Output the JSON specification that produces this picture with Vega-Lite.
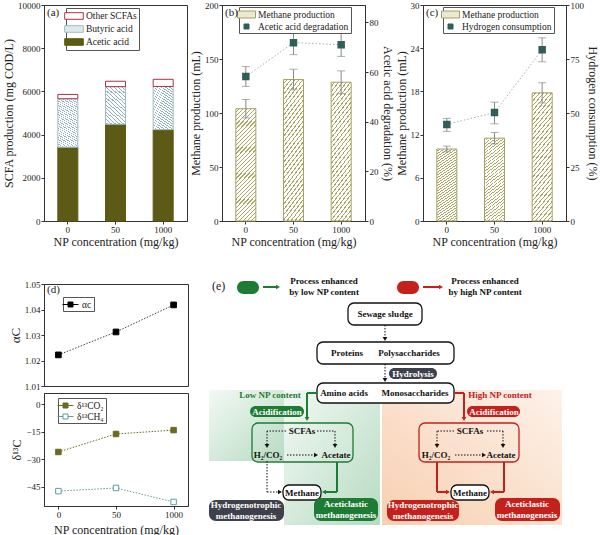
{
"$schema":"https://vega.github.io/schema/vega-lite/v6.json",
"background":"white",
"padding":{"left":2,"top":0,"right":2,"bottom":0},
"config":{
 "font":"Liberation Serif",
 "view":{"stroke":"#333","strokeWidth":1},
 "axis":{"labelFont":"Liberation Serif","titleFont":"Liberation Serif","labelFontSize":9,"titleFontSize":12,"titleFontWeight":"normal","grid":false,"domainColor":"#333","tickColor":"#333","labelColor":"#222","titleColor":"#222","tickSize":3,"labelPadding":1,"titlePadding":2},
 "legend":{"labelFont":"Liberation Serif","labelFontSize":9.5,"labelColor":"#222","strokeColor":"#555","padding":2,"fillColor":"#ffffff","symbolStrokeWidth":1,"rowPadding":1,"labelOffset":6},
 "title":{"font":"Liberation Serif","fontSize":11,"fontWeight":"normal","color":"#222"}
},
"datasets":{
 "bg":[
  {"x":212,"x2":287,"y":392,"y2":463,"zone":"low"},
  {"x":287,"x2":383,"y":392,"y2":527,"zone":"low"},
  {"x":385,"x2":565,"y":392,"y2":527,"zone":"high"}
 ],
 "boxes":[
  {"x":351,"x2":425,"y":305,"y2":327,"c":"k"},
  {"x":320,"x2":457,"y":344,"y2":366,"c":"k"},
  {"x":320,"x2":457,"y":385,"y2":405,"c":"k"},
  {"x":255,"x2":356,"y":425,"y2":464,"c":"g"},
  {"x":422,"x2":522,"y":425,"y2":464,"c":"r"},
  {"x":286,"x2":324,"y":487,"y2":502,"c":"k"},
  {"x":454,"x2":492,"y":487,"y2":502,"c":"k"}
 ],
 "pills":[
  {"x":240,"x2":262,"y":283,"y2":296,"c":"g"},
  {"x":400,"x2":422,"y":283,"y2":296,"c":"r"},
  {"x":392,"x2":440,"y":370,"y2":381,"c":"d"},
  {"x":253,"x2":307,"y":408,"y2":419,"c":"g"},
  {"x":470,"x2":523,"y":408,"y2":419,"c":"r"},
  {"x":212,"x2":287,"y":502,"y2":523,"c":"d"},
  {"x":317,"x2":381,"y":500,"y2":523,"c":"g"},
  {"x":390,"x2":462,"y":502,"y2":523,"c":"r"},
  {"x":498,"x2":563,"y":500,"y2":523,"c":"r"}
 ],
 "dots":[
  {"x":388,"y":327,"x2":388,"y2":340},
  {"x":388,"y":366,"x2":388,"y2":381},
  {"x":289,"y":433,"x2":270,"y2":433},{"x":270,"y":433,"x2":270,"y2":447},
  {"x":320,"y":433,"x2":338,"y2":433},{"x":338,"y":433,"x2":338,"y2":447},
  {"x":290,"y":457,"x2":318,"y2":457},
  {"x":270,"y":463,"x2":270,"y2":494},{"x":270,"y":494,"x2":282,"y2":494},
  {"x":457,"y":433,"x2":440,"y2":433},{"x":440,"y":433,"x2":440,"y2":447},
  {"x":490,"y":433,"x2":506,"y2":433},{"x":506,"y":433,"x2":506,"y2":447},
  {"x":458,"y":457,"x2":486,"y2":457}
 ],
 "solids":[
  {"x":266,"y":289,"x2":280,"y2":289,"c":"g"},
  {"x":426,"y":289,"x2":443,"y2":289,"c":"r"},
  {"x":320,"y":395,"x2":310,"y2":395,"c":"g"},{"x":310,"y":395,"x2":310,"y2":420,"c":"g"},
  {"x":340,"y":464,"x2":340,"y2":494,"c":"g"},{"x":340,"y":494,"x2":328,"y2":494,"c":"g"},
  {"x":457,"y":395,"x2":467,"y2":395,"c":"r"},{"x":467,"y":395,"x2":467,"y2":420,"c":"r"},
  {"x":440,"y":464,"x2":440,"y2":494,"c":"r"},{"x":440,"y":494,"x2":450,"y2":494,"c":"r"},
  {"x":507,"y":464,"x2":507,"y2":494,"c":"r"},{"x":507,"y":494,"x2":496,"y2":494,"c":"r"}
 ],
 "heads":[
  {"x":388,"y":341,"dir":"down","c":"k"},
  {"x":388,"y":382,"dir":"down","c":"k"},
  {"x":270,"y":448,"dir":"down","c":"k"},{"x":338,"y":448,"dir":"down","c":"k"},
  {"x":319,"y":457,"dir":"right","c":"k"},
  {"x":283,"y":494,"dir":"right","c":"k"},
  {"x":440,"y":448,"dir":"down","c":"k"},{"x":506,"y":448,"dir":"down","c":"k"},
  {"x":487,"y":457,"dir":"right","c":"k"},
  {"x":281,"y":289,"dir":"right","c":"g"},{"x":444,"y":289,"dir":"right","c":"r"},
  {"x":310,"y":421,"dir":"down","c":"g"},{"x":327,"y":494,"dir":"left","c":"g"},
  {"x":467,"y":421,"dir":"down","c":"r"},{"x":451,"y":494,"dir":"right","c":"r"},{"x":495,"y":494,"dir":"left","c":"r"}
 ],
 "texts":[
  {"t":"Process enhanced","x":327,"y":283,"c":"k"},{"t":"by low NP content","x":327,"y":294,"c":"k"},
  {"t":"Process enhanced","x":488,"y":283,"c":"k"},{"t":"by high NP content","x":488,"y":294,"c":"k"},
  {"t":"Sewage sludge","x":388,"y":316,"c":"k"},
  {"t":"Proteins","x":350,"y":355,"c":"k"},{"t":"Polysaccharides","x":412,"y":355,"c":"k"},
  {"t":"Hydrolysis","x":416,"y":375.5,"c":"w"},
  {"t":"Amino acids","x":347,"y":395,"c":"k"},{"t":"Monosaccharides","x":418,"y":395,"c":"k"},
  {"t":"Low NP content","x":273,"y":397,"c":"g"},{"t":"High NP content","x":503,"y":397,"c":"r"},
  {"t":"Acidification","x":280,"y":413.5,"c":"w"},{"t":"Acidification","x":497,"y":413.5,"c":"w"},
  {"t":"SCFAs","x":305,"y":433,"c":"k"},{"t":"SCFAs","x":473,"y":433,"c":"k"},
  {"t":"H₂/CO₂","x":271,"y":457,"c":"k"},{"t":"H₂/CO₂","x":439,"y":457,"c":"k"},
  {"t":"Acetate","x":339,"y":457,"c":"k"},{"t":"Acetate","x":504,"y":457,"c":"k"},
  {"t":"Methane","x":305,"y":494.5,"c":"k"},{"t":"Methane","x":473,"y":494.5,"c":"k"},
  {"t":"Hydrogenotrophic","x":249,"y":507,"c":"w"},{"t":"methanogenesis","x":249,"y":518,"c":"w"},
  {"t":"Aceticlastic","x":349,"y":506,"c":"w"},{"t":"methanogenesis","x":349,"y":517,"c":"w"},
  {"t":"Hydrogenotrophic","x":426,"y":507,"c":"w"},{"t":"methanogenesis","x":426,"y":518,"c":"w"},
  {"t":"Aceticlastic","x":530,"y":506,"c":"w"},{"t":"methanogenesis","x":530,"y":517,"c":"w"}
 ]
},
"resolve":{"scale":{"fill":"independent","stroke":"independent","color":"independent","shape":"independent"},"legend":{"fill":"independent","stroke":"independent","color":"independent","shape":"independent"}},
"hconcat":[
 {"resolve":{"scale":{"fill":"independent","stroke":"independent","color":"independent","shape":"independent"},"legend":{"fill":"independent","stroke":"independent","color":"independent","shape":"independent"}},
  "vconcat":[
  {
   "width":143,"height":216,
   "title":{"text":"(a)","frame":"group","anchor":"start","offset":-17,"dx":3},
   "data":{"values":[
    {"np":"0","comp":"Acetic acid","v":3420},
    {"np":"0","comp":"Butyric acid","v":2240},
    {"np":"0","comp":"Other SCFAs","v":200},
    {"np":"50","comp":"Acetic acid","v":4480},
    {"np":"50","comp":"Butyric acid","v":1740},
    {"np":"50","comp":"Other SCFAs","v":250},
    {"np":"1000","comp":"Acetic acid","v":4230},
    {"np":"1000","comp":"Butyric acid","v":2000},
    {"np":"1000","comp":"Other SCFAs","v":330}
   ]},
   "mark":{"type":"bar","strokeWidth":1},
   "encoding":{
    "x":{"field":"np","type":"nominal","sort":["0","50","1000"],"scale":{"paddingInner":0.58,"paddingOuter":0.29},"axis":{"labelAngle":0,"title":"NP concentration (mg/kg)"}},
    "y":{"field":"v","type":"quantitative","stack":"zero","scale":{"domain":[0,10000],"nice":false},"axis":{"values":[0,2000,4000,6000,8000,10000],"format":"d","title":"SCFA production (mg COD/L)"}},
    "order":{"field":"comp","sort":"ascending"},
    "fill":{"condition":{"test":"datum.comp === 'Butyric acid'","value":{"gradient":"linear","x1":0,"y1":0,"x2":0.2122,"y2":1.146,"stops":[
{"offset":0,"color":"#fff"},{"offset":0.021875,"color":"#fff"},{"offset":0.021875,"color":"#8fb0ba"},{"offset":0.03125,"color":"#8fb0ba"},
{"offset":0.03125,"color":"#fff"},{"offset":0.053125,"color":"#fff"},{"offset":0.053125,"color":"#8fb0ba"},{"offset":0.0625,"color":"#8fb0ba"},
{"offset":0.0625,"color":"#fff"},{"offset":0.084375,"color":"#fff"},{"offset":0.084375,"color":"#8fb0ba"},{"offset":0.09375,"color":"#8fb0ba"},
{"offset":0.09375,"color":"#fff"},{"offset":0.115625,"color":"#fff"},{"offset":0.115625,"color":"#8fb0ba"},{"offset":0.125,"color":"#8fb0ba"},
{"offset":0.125,"color":"#fff"},{"offset":0.146875,"color":"#fff"},{"offset":0.146875,"color":"#8fb0ba"},{"offset":0.15625,"color":"#8fb0ba"},
{"offset":0.15625,"color":"#fff"},{"offset":0.178125,"color":"#fff"},{"offset":0.178125,"color":"#8fb0ba"},{"offset":0.1875,"color":"#8fb0ba"},
{"offset":0.1875,"color":"#fff"},{"offset":0.209375,"color":"#fff"},{"offset":0.209375,"color":"#8fb0ba"},{"offset":0.21875,"color":"#8fb0ba"},
{"offset":0.21875,"color":"#fff"},{"offset":0.240625,"color":"#fff"},{"offset":0.240625,"color":"#8fb0ba"},{"offset":0.25,"color":"#8fb0ba"},
{"offset":0.25,"color":"#fff"},{"offset":0.271875,"color":"#fff"},{"offset":0.271875,"color":"#8fb0ba"},{"offset":0.28125,"color":"#8fb0ba"},
{"offset":0.28125,"color":"#fff"},{"offset":0.303125,"color":"#fff"},{"offset":0.303125,"color":"#8fb0ba"},{"offset":0.3125,"color":"#8fb0ba"},
{"offset":0.3125,"color":"#fff"},{"offset":0.334375,"color":"#fff"},{"offset":0.334375,"color":"#8fb0ba"},{"offset":0.34375,"color":"#8fb0ba"},
{"offset":0.34375,"color":"#fff"},{"offset":0.365625,"color":"#fff"},{"offset":0.365625,"color":"#8fb0ba"},{"offset":0.375,"color":"#8fb0ba"},
{"offset":0.375,"color":"#fff"},{"offset":0.396875,"color":"#fff"},{"offset":0.396875,"color":"#8fb0ba"},{"offset":0.40625,"color":"#8fb0ba"},
{"offset":0.40625,"color":"#fff"},{"offset":0.428125,"color":"#fff"},{"offset":0.428125,"color":"#8fb0ba"},{"offset":0.4375,"color":"#8fb0ba"},
{"offset":0.4375,"color":"#fff"},{"offset":0.459375,"color":"#fff"},{"offset":0.459375,"color":"#8fb0ba"},{"offset":0.46875,"color":"#8fb0ba"},
{"offset":0.46875,"color":"#fff"},{"offset":0.490625,"color":"#fff"},{"offset":0.490625,"color":"#8fb0ba"},{"offset":0.5,"color":"#8fb0ba"},
{"offset":0.5,"color":"#fff"},{"offset":0.521875,"color":"#fff"},{"offset":0.521875,"color":"#8fb0ba"},{"offset":0.53125,"color":"#8fb0ba"},
{"offset":0.53125,"color":"#fff"},{"offset":0.553125,"color":"#fff"},{"offset":0.553125,"color":"#8fb0ba"},{"offset":0.5625,"color":"#8fb0ba"},
{"offset":0.5625,"color":"#fff"},{"offset":0.584375,"color":"#fff"},{"offset":0.584375,"color":"#8fb0ba"},{"offset":0.59375,"color":"#8fb0ba"},
{"offset":0.59375,"color":"#fff"},{"offset":0.615625,"color":"#fff"},{"offset":0.615625,"color":"#8fb0ba"},{"offset":0.625,"color":"#8fb0ba"},
{"offset":0.625,"color":"#fff"},{"offset":0.646875,"color":"#fff"},{"offset":0.646875,"color":"#8fb0ba"},{"offset":0.65625,"color":"#8fb0ba"},
{"offset":0.65625,"color":"#fff"},{"offset":0.678125,"color":"#fff"},{"offset":0.678125,"color":"#8fb0ba"},{"offset":0.6875,"color":"#8fb0ba"},
{"offset":0.6875,"color":"#fff"},{"offset":0.709375,"color":"#fff"},{"offset":0.709375,"color":"#8fb0ba"},{"offset":0.71875,"color":"#8fb0ba"},
{"offset":0.71875,"color":"#fff"},{"offset":0.740625,"color":"#fff"},{"offset":0.740625,"color":"#8fb0ba"},{"offset":0.75,"color":"#8fb0ba"},
{"offset":0.75,"color":"#fff"},{"offset":0.771875,"color":"#fff"},{"offset":0.771875,"color":"#8fb0ba"},{"offset":0.78125,"color":"#8fb0ba"},
{"offset":0.78125,"color":"#fff"},{"offset":0.803125,"color":"#fff"},{"offset":0.803125,"color":"#8fb0ba"},{"offset":0.8125,"color":"#8fb0ba"},
{"offset":0.8125,"color":"#fff"},{"offset":0.834375,"color":"#fff"},{"offset":0.834375,"color":"#8fb0ba"},{"offset":0.84375,"color":"#8fb0ba"},
{"offset":0.84375,"color":"#fff"},{"offset":0.865625,"color":"#fff"},{"offset":0.865625,"color":"#8fb0ba"},{"offset":0.875,"color":"#8fb0ba"},
{"offset":0.875,"color":"#fff"},{"offset":0.896875,"color":"#fff"},{"offset":0.896875,"color":"#8fb0ba"},{"offset":0.90625,"color":"#8fb0ba"},
{"offset":0.90625,"color":"#fff"},{"offset":0.928125,"color":"#fff"},{"offset":0.928125,"color":"#8fb0ba"},{"offset":0.9375,"color":"#8fb0ba"},
{"offset":0.9375,"color":"#fff"},{"offset":0.959375,"color":"#fff"},{"offset":0.959375,"color":"#8fb0ba"},{"offset":0.96875,"color":"#8fb0ba"},
{"offset":0.96875,"color":"#fff"},{"offset":0.990625,"color":"#fff"},{"offset":0.990625,"color":"#8fb0ba"},{"offset":1,"color":"#8fb0ba"}
]}},"field":"comp","type":"nominal","scale":{"domain":["Other SCFAs","Butyric acid","Acetic acid"],"range":["#ffffff","#dfe9ec","#5c5a14"]},"legend":{"title":null,"orient":"none","legendX":22,"legendY":3,"symbolType":"M-1.7,-0.6H1.7V0.6H-1.7Z","symbolSize":120}},
    "stroke":{"field":"comp","type":"nominal","scale":{"domain":["Other SCFAs","Butyric acid","Acetic acid"],"range":["#a83244","#9fbcc4","#5c5a14"]},"legend":{"title":null,"orient":"none","legendX":22,"legendY":3,"symbolType":"M-1.7,-0.6H1.7V0.6H-1.7Z","symbolSize":120}}
   }
  },
  {"resolve":{"scale":{"fill":"independent","stroke":"independent","color":"independent","shape":"independent"},"legend":{"fill":"independent","stroke":"independent","color":"independent","shape":"independent"}},
   "vconcat":[
   {
    "width":144,"height":102,
    "title":{"text":"(d)","frame":"group","anchor":"start","offset":-15,"dx":3},
    "data":{"values":[{"np":"0","a":1.0222},{"np":"50","a":1.0312},{"np":"1000","a":1.0418}]},
    "encoding":{
     "x":{"field":"np","type":"ordinal","sort":["0","50","1000"],"scale":{"type":"point","padding":0.25},"axis":null},
     "y":{"field":"a","type":"quantitative","scale":{"domain":[1.01,1.05],"nice":false,"zero":false},"axis":{"values":[1.01,1.02,1.03,1.04,1.05],"format":".2f","title":"αC","titleFontSize":13}}
    },
    "layer":[
     {"mark":{"type":"line","strokeDash":[1.5,1.5],"color":"#444","strokeWidth":1}},
     {"mark":{"type":"point","shape":"square","size":32,"opacity":1,"strokeWidth":1},
      "encoding":{
       "fill":{"datum":"αc","type":"nominal","scale":{"domain":["αc"],"range":["#000000"]},"legend":{"title":null,"orient":"none","legendX":19,"legendY":13,"symbolType":"M-1.6,0H-0.5M0.5,0H1.6M-0.5,-0.5H0.5V0.5H-0.5Z","symbolSize":100}},
       "stroke":{"datum":"αc","type":"nominal","scale":{"domain":["αc"],"range":["#000000"]},"legend":{"title":null,"orient":"none","legendX":19,"legendY":13,"symbolType":"M-1.6,0H-0.5M0.5,0H1.6M-0.5,-0.5H0.5V0.5H-0.5Z","symbolSize":100}}}}
    ]
   },
   {
    "width":144,"height":113,
    "data":{"values":[
     {"np":"0","s":"δ¹³CO₂","v":-26.1},{"np":"50","s":"δ¹³CO₂","v":-16.3},{"np":"1000","s":"δ¹³CO₂","v":-14.2},
     {"np":"0","s":"δ¹³CH₄","v":-47.4},{"np":"50","s":"δ¹³CH₄","v":-45.7},{"np":"1000","s":"δ¹³CH₄","v":-53.3}
    ]},
    "encoding":{
     "x":{"field":"np","type":"ordinal","sort":["0","50","1000"],"scale":{"type":"point","padding":0.25},"axis":{"labelAngle":0,"title":"NP concentration (mg/kg)","titlePadding":5}},
     "y":{"field":"v","type":"quantitative","scale":{"domain":[-55.5,6],"nice":false,"zero":false},"axis":{"values":[0,-15,-30,-45],"title":"δ¹³C"}}
    },
    "layer":[
     {"mark":{"type":"line","strokeDash":[1.5,1.5],"strokeWidth":1},
      "encoding":{"stroke":{"field":"s","type":"nominal","scale":{"domain":["δ¹³CO₂","δ¹³CH₄"],"range":["#6b6a22","#5f9e9e"]},"legend":{"title":null,"orient":"none","legendX":14,"legendY":5,"symbolType":"M-1.6,0H-0.5M0.5,0H1.6M-0.5,-0.5H0.5V0.5H-0.5Z","symbolSize":100}}}},
     {"mark":{"type":"point","shape":"square","size":30,"opacity":1,"strokeWidth":1},
      "encoding":{
       "stroke":{"field":"s","type":"nominal","scale":{"domain":["δ¹³CO₂","δ¹³CH₄"],"range":["#6b6a22","#5f9e9e"]},"legend":{"title":null,"orient":"none","legendX":14,"legendY":5,"symbolType":"M-1.6,0H-0.5M0.5,0H1.6M-0.5,-0.5H0.5V0.5H-0.5Z","symbolSize":100}},
       "fill":{"field":"s","type":"nominal","scale":{"domain":["δ¹³CO₂","δ¹³CH₄"],"range":["#6b6a22","#ffffff"]},"legend":{"title":null,"orient":"none","legendX":14,"legendY":5,"symbolType":"M-1.6,0H-0.5M0.5,0H1.6M-0.5,-0.5H0.5V0.5H-0.5Z","symbolSize":100}}}}
    ]
   }
  ],"spacing":0}
 ],"spacing":31},
 {"resolve":{"scale":{"fill":"independent","stroke":"independent","color":"independent","shape":"independent"},"legend":{"fill":"independent","stroke":"independent","color":"independent","shape":"independent"}},
  "vconcat":[
  {"resolve":{"scale":{"fill":"independent","stroke":"independent","color":"independent","shape":"independent"},"legend":{"fill":"independent","stroke":"independent","color":"independent","shape":"independent"}},
   "hconcat":[
   {
    "width":143,"height":216,
    "title":{"text":"(b)","frame":"group","anchor":"start","offset":-17,"dx":3},
    "data":{"values":[
     {"np":"0","ch4":104,"lo":95.5,"hi":112.5,"d":58.2,"dlo":54.2,"dhi":62.2},
     {"np":"50","ch4":131,"lo":121.5,"hi":140.5,"d":71.8,"dlo":67,"dhi":76.3},
     {"np":"1000","ch4":128.5,"lo":118,"hi":139,"d":71.0,"dlo":66.3,"dhi":75.9}
    ]},
    "encoding":{"x":{"field":"np","type":"nominal","sort":["0","50","1000"],"scale":{"paddingInner":0.58,"paddingOuter":0.29},"axis":{"labelAngle":0,"title":"NP concentration (mg/kg)"}}},
    "layer":[
     {"layer":[
      {"mark":{"type":"bar","strokeWidth":1},
       "encoding":{
        "y":{"field":"ch4","type":"quantitative","scale":{"domain":[0,200],"nice":false},"axis":{"values":[0,50,100,150,200],"title":"Methane production (mL)"}},
        "fill":{"condition":{"test":"true","value":{"gradient":"linear","x1":0,"y1":0,"x2":0.2122,"y2":1.146,"stops":[
{"offset":0,"color":"#fff"},{"offset":0.021875,"color":"#fff"},{"offset":0.021875,"color":"#aba564"},{"offset":0.03125,"color":"#aba564"},
{"offset":0.03125,"color":"#fff"},{"offset":0.053125,"color":"#fff"},{"offset":0.053125,"color":"#aba564"},{"offset":0.0625,"color":"#aba564"},
{"offset":0.0625,"color":"#fff"},{"offset":0.084375,"color":"#fff"},{"offset":0.084375,"color":"#aba564"},{"offset":0.09375,"color":"#aba564"},
{"offset":0.09375,"color":"#fff"},{"offset":0.115625,"color":"#fff"},{"offset":0.115625,"color":"#aba564"},{"offset":0.125,"color":"#aba564"},
{"offset":0.125,"color":"#fff"},{"offset":0.146875,"color":"#fff"},{"offset":0.146875,"color":"#aba564"},{"offset":0.15625,"color":"#aba564"},
{"offset":0.15625,"color":"#fff"},{"offset":0.178125,"color":"#fff"},{"offset":0.178125,"color":"#aba564"},{"offset":0.1875,"color":"#aba564"},
{"offset":0.1875,"color":"#fff"},{"offset":0.209375,"color":"#fff"},{"offset":0.209375,"color":"#aba564"},{"offset":0.21875,"color":"#aba564"},
{"offset":0.21875,"color":"#fff"},{"offset":0.240625,"color":"#fff"},{"offset":0.240625,"color":"#aba564"},{"offset":0.25,"color":"#aba564"},
{"offset":0.25,"color":"#fff"},{"offset":0.271875,"color":"#fff"},{"offset":0.271875,"color":"#aba564"},{"offset":0.28125,"color":"#aba564"},
{"offset":0.28125,"color":"#fff"},{"offset":0.303125,"color":"#fff"},{"offset":0.303125,"color":"#aba564"},{"offset":0.3125,"color":"#aba564"},
{"offset":0.3125,"color":"#fff"},{"offset":0.334375,"color":"#fff"},{"offset":0.334375,"color":"#aba564"},{"offset":0.34375,"color":"#aba564"},
{"offset":0.34375,"color":"#fff"},{"offset":0.365625,"color":"#fff"},{"offset":0.365625,"color":"#aba564"},{"offset":0.375,"color":"#aba564"},
{"offset":0.375,"color":"#fff"},{"offset":0.396875,"color":"#fff"},{"offset":0.396875,"color":"#aba564"},{"offset":0.40625,"color":"#aba564"},
{"offset":0.40625,"color":"#fff"},{"offset":0.428125,"color":"#fff"},{"offset":0.428125,"color":"#aba564"},{"offset":0.4375,"color":"#aba564"},
{"offset":0.4375,"color":"#fff"},{"offset":0.459375,"color":"#fff"},{"offset":0.459375,"color":"#aba564"},{"offset":0.46875,"color":"#aba564"},
{"offset":0.46875,"color":"#fff"},{"offset":0.490625,"color":"#fff"},{"offset":0.490625,"color":"#aba564"},{"offset":0.5,"color":"#aba564"},
{"offset":0.5,"color":"#fff"},{"offset":0.521875,"color":"#fff"},{"offset":0.521875,"color":"#aba564"},{"offset":0.53125,"color":"#aba564"},
{"offset":0.53125,"color":"#fff"},{"offset":0.553125,"color":"#fff"},{"offset":0.553125,"color":"#aba564"},{"offset":0.5625,"color":"#aba564"},
{"offset":0.5625,"color":"#fff"},{"offset":0.584375,"color":"#fff"},{"offset":0.584375,"color":"#aba564"},{"offset":0.59375,"color":"#aba564"},
{"offset":0.59375,"color":"#fff"},{"offset":0.615625,"color":"#fff"},{"offset":0.615625,"color":"#aba564"},{"offset":0.625,"color":"#aba564"},
{"offset":0.625,"color":"#fff"},{"offset":0.646875,"color":"#fff"},{"offset":0.646875,"color":"#aba564"},{"offset":0.65625,"color":"#aba564"},
{"offset":0.65625,"color":"#fff"},{"offset":0.678125,"color":"#fff"},{"offset":0.678125,"color":"#aba564"},{"offset":0.6875,"color":"#aba564"},
{"offset":0.6875,"color":"#fff"},{"offset":0.709375,"color":"#fff"},{"offset":0.709375,"color":"#aba564"},{"offset":0.71875,"color":"#aba564"},
{"offset":0.71875,"color":"#fff"},{"offset":0.740625,"color":"#fff"},{"offset":0.740625,"color":"#aba564"},{"offset":0.75,"color":"#aba564"},
{"offset":0.75,"color":"#fff"},{"offset":0.771875,"color":"#fff"},{"offset":0.771875,"color":"#aba564"},{"offset":0.78125,"color":"#aba564"},
{"offset":0.78125,"color":"#fff"},{"offset":0.803125,"color":"#fff"},{"offset":0.803125,"color":"#aba564"},{"offset":0.8125,"color":"#aba564"},
{"offset":0.8125,"color":"#fff"},{"offset":0.834375,"color":"#fff"},{"offset":0.834375,"color":"#aba564"},{"offset":0.84375,"color":"#aba564"},
{"offset":0.84375,"color":"#fff"},{"offset":0.865625,"color":"#fff"},{"offset":0.865625,"color":"#aba564"},{"offset":0.875,"color":"#aba564"},
{"offset":0.875,"color":"#fff"},{"offset":0.896875,"color":"#fff"},{"offset":0.896875,"color":"#aba564"},{"offset":0.90625,"color":"#aba564"},
{"offset":0.90625,"color":"#fff"},{"offset":0.928125,"color":"#fff"},{"offset":0.928125,"color":"#aba564"},{"offset":0.9375,"color":"#aba564"},
{"offset":0.9375,"color":"#fff"},{"offset":0.959375,"color":"#fff"},{"offset":0.959375,"color":"#aba564"},{"offset":0.96875,"color":"#aba564"},
{"offset":0.96875,"color":"#fff"},{"offset":0.990625,"color":"#fff"},{"offset":0.990625,"color":"#aba564"},{"offset":1,"color":"#aba564"}
]}},"datum":"Methane production","type":"nominal","scale":{"domain":["Methane production","Acetic acid degradation"],"range":["#ebe9d2","#2f5f58"]},"legend":{"title":null,"orient":"none","legendX":17,"legendY":2}},
        "stroke":{"datum":"Methane production","type":"nominal","scale":{"domain":["Methane production","Acetic acid degradation"],"range":["#a6a163","#2f5f58"]},"legend":{"title":null,"orient":"none","legendX":17,"legendY":2}}}},
      {"mark":{"type":"errorbar","color":"#8a8a8a","ticks":{"size":8}},
       "encoding":{"y":{"field":"lo","type":"quantitative","title":"Methane production (mL)"},"y2":{"field":"hi"}}}
     ]},
     {"layer":[
      {"mark":{"type":"line","strokeDash":[1.5,2],"color":"#9fb3b3","strokeWidth":1},
       "encoding":{"y":{"field":"d","type":"quantitative","scale":{"domain":[0,87],"nice":false},"axis":{"orient":"right","values":[0,20,40,60,80],"title":"Acetic acid degradation (%)"}}}},
      {"mark":{"type":"errorbar","color":"#8a8a8a","ticks":{"size":8}},
       "encoding":{"y":{"field":"dlo","type":"quantitative","title":"Acetic acid degradation (%)"},"y2":{"field":"dhi"}}},
      {"mark":{"type":"point","filled":true,"size":120,"opacity":1},
       "encoding":{
        "y":{"field":"d","type":"quantitative"},
        "shape":{"datum":"Acetic acid degradation","type":"nominal","scale":{"domain":["Methane production","Acetic acid degradation"],"range":["M-1.8,-0.7H1.8V0.7H-1.8Z","M-0.5,-0.5H0.5V0.5H-0.5Z"]},"legend":{"title":null,"orient":"none","legendX":17,"legendY":2}},
        "fill":{"datum":"Acetic acid degradation","type":"nominal","scale":{"domain":["Methane production","Acetic acid degradation"],"range":["#ebe9d2","#2f5f58"]},"legend":{"title":null,"orient":"none","legendX":17,"legendY":2}},
        "stroke":{"datum":"Acetic acid degradation","type":"nominal","scale":{"domain":["Methane production","Acetic acid degradation"],"range":["#a6a163","#2f5f58"]},"legend":{"title":null,"orient":"none","legendX":17,"legendY":2}}}}
     ]}
    ],
    "resolve":{"scale":{"y":"independent"}}
   },
   {
    "width":143,"height":216,
    "title":{"text":"(c)","frame":"group","anchor":"start","offset":-17,"dx":3},
    "data":{"values":[
     {"np":"0","ch4":10.0,"lo":9.6,"hi":10.4,"h":44.7,"hlo":41.5,"hhi":47.5},
     {"np":"50","ch4":11.5,"lo":10.7,"hi":12.3,"h":50.2,"hlo":45,"hhi":55},
     {"np":"1000","ch4":17.8,"lo":16.4,"hi":19.2,"h":79.3,"hlo":73.7,"hhi":84.8}
    ]},
    "encoding":{"x":{"field":"np","type":"nominal","sort":["0","50","1000"],"scale":{"paddingInner":0.58,"paddingOuter":0.29},"axis":{"labelAngle":0,"title":"NP concentration (mg/kg)"}}},
    "layer":[
     {"layer":[
      {"mark":{"type":"bar","strokeWidth":1},
       "encoding":{
        "y":{"field":"ch4","type":"quantitative","scale":{"domain":[0,30],"nice":false},"axis":{"values":[0,6,12,18,24,30],"title":"Methane production (mL)"}},
        "fill":{"condition":{"test":"true","value":{"gradient":"linear","x1":0,"y1":0,"x2":0.2122,"y2":1.146,"stops":[
{"offset":0,"color":"#fff"},{"offset":0.021875,"color":"#fff"},{"offset":0.021875,"color":"#aba564"},{"offset":0.03125,"color":"#aba564"},
{"offset":0.03125,"color":"#fff"},{"offset":0.053125,"color":"#fff"},{"offset":0.053125,"color":"#aba564"},{"offset":0.0625,"color":"#aba564"},
{"offset":0.0625,"color":"#fff"},{"offset":0.084375,"color":"#fff"},{"offset":0.084375,"color":"#aba564"},{"offset":0.09375,"color":"#aba564"},
{"offset":0.09375,"color":"#fff"},{"offset":0.115625,"color":"#fff"},{"offset":0.115625,"color":"#aba564"},{"offset":0.125,"color":"#aba564"},
{"offset":0.125,"color":"#fff"},{"offset":0.146875,"color":"#fff"},{"offset":0.146875,"color":"#aba564"},{"offset":0.15625,"color":"#aba564"},
{"offset":0.15625,"color":"#fff"},{"offset":0.178125,"color":"#fff"},{"offset":0.178125,"color":"#aba564"},{"offset":0.1875,"color":"#aba564"},
{"offset":0.1875,"color":"#fff"},{"offset":0.209375,"color":"#fff"},{"offset":0.209375,"color":"#aba564"},{"offset":0.21875,"color":"#aba564"},
{"offset":0.21875,"color":"#fff"},{"offset":0.240625,"color":"#fff"},{"offset":0.240625,"color":"#aba564"},{"offset":0.25,"color":"#aba564"},
{"offset":0.25,"color":"#fff"},{"offset":0.271875,"color":"#fff"},{"offset":0.271875,"color":"#aba564"},{"offset":0.28125,"color":"#aba564"},
{"offset":0.28125,"color":"#fff"},{"offset":0.303125,"color":"#fff"},{"offset":0.303125,"color":"#aba564"},{"offset":0.3125,"color":"#aba564"},
{"offset":0.3125,"color":"#fff"},{"offset":0.334375,"color":"#fff"},{"offset":0.334375,"color":"#aba564"},{"offset":0.34375,"color":"#aba564"},
{"offset":0.34375,"color":"#fff"},{"offset":0.365625,"color":"#fff"},{"offset":0.365625,"color":"#aba564"},{"offset":0.375,"color":"#aba564"},
{"offset":0.375,"color":"#fff"},{"offset":0.396875,"color":"#fff"},{"offset":0.396875,"color":"#aba564"},{"offset":0.40625,"color":"#aba564"},
{"offset":0.40625,"color":"#fff"},{"offset":0.428125,"color":"#fff"},{"offset":0.428125,"color":"#aba564"},{"offset":0.4375,"color":"#aba564"},
{"offset":0.4375,"color":"#fff"},{"offset":0.459375,"color":"#fff"},{"offset":0.459375,"color":"#aba564"},{"offset":0.46875,"color":"#aba564"},
{"offset":0.46875,"color":"#fff"},{"offset":0.490625,"color":"#fff"},{"offset":0.490625,"color":"#aba564"},{"offset":0.5,"color":"#aba564"},
{"offset":0.5,"color":"#fff"},{"offset":0.521875,"color":"#fff"},{"offset":0.521875,"color":"#aba564"},{"offset":0.53125,"color":"#aba564"},
{"offset":0.53125,"color":"#fff"},{"offset":0.553125,"color":"#fff"},{"offset":0.553125,"color":"#aba564"},{"offset":0.5625,"color":"#aba564"},
{"offset":0.5625,"color":"#fff"},{"offset":0.584375,"color":"#fff"},{"offset":0.584375,"color":"#aba564"},{"offset":0.59375,"color":"#aba564"},
{"offset":0.59375,"color":"#fff"},{"offset":0.615625,"color":"#fff"},{"offset":0.615625,"color":"#aba564"},{"offset":0.625,"color":"#aba564"},
{"offset":0.625,"color":"#fff"},{"offset":0.646875,"color":"#fff"},{"offset":0.646875,"color":"#aba564"},{"offset":0.65625,"color":"#aba564"},
{"offset":0.65625,"color":"#fff"},{"offset":0.678125,"color":"#fff"},{"offset":0.678125,"color":"#aba564"},{"offset":0.6875,"color":"#aba564"},
{"offset":0.6875,"color":"#fff"},{"offset":0.709375,"color":"#fff"},{"offset":0.709375,"color":"#aba564"},{"offset":0.71875,"color":"#aba564"},
{"offset":0.71875,"color":"#fff"},{"offset":0.740625,"color":"#fff"},{"offset":0.740625,"color":"#aba564"},{"offset":0.75,"color":"#aba564"},
{"offset":0.75,"color":"#fff"},{"offset":0.771875,"color":"#fff"},{"offset":0.771875,"color":"#aba564"},{"offset":0.78125,"color":"#aba564"},
{"offset":0.78125,"color":"#fff"},{"offset":0.803125,"color":"#fff"},{"offset":0.803125,"color":"#aba564"},{"offset":0.8125,"color":"#aba564"},
{"offset":0.8125,"color":"#fff"},{"offset":0.834375,"color":"#fff"},{"offset":0.834375,"color":"#aba564"},{"offset":0.84375,"color":"#aba564"},
{"offset":0.84375,"color":"#fff"},{"offset":0.865625,"color":"#fff"},{"offset":0.865625,"color":"#aba564"},{"offset":0.875,"color":"#aba564"},
{"offset":0.875,"color":"#fff"},{"offset":0.896875,"color":"#fff"},{"offset":0.896875,"color":"#aba564"},{"offset":0.90625,"color":"#aba564"},
{"offset":0.90625,"color":"#fff"},{"offset":0.928125,"color":"#fff"},{"offset":0.928125,"color":"#aba564"},{"offset":0.9375,"color":"#aba564"},
{"offset":0.9375,"color":"#fff"},{"offset":0.959375,"color":"#fff"},{"offset":0.959375,"color":"#aba564"},{"offset":0.96875,"color":"#aba564"},
{"offset":0.96875,"color":"#fff"},{"offset":0.990625,"color":"#fff"},{"offset":0.990625,"color":"#aba564"},{"offset":1,"color":"#aba564"}
]}},"datum":"Methane production","type":"nominal","scale":{"domain":["Methane production","Hydrogen consumption"],"range":["#ebe9d2","#2f5f58"]},"legend":{"title":null,"orient":"none","legendX":20,"legendY":2}},
        "stroke":{"datum":"Methane production","type":"nominal","scale":{"domain":["Methane production","Hydrogen consumption"],"range":["#a6a163","#2f5f58"]},"legend":{"title":null,"orient":"none","legendX":20,"legendY":2}}}},
      {"mark":{"type":"errorbar","color":"#8a8a8a","ticks":{"size":8}},
       "encoding":{"y":{"field":"lo","type":"quantitative","title":"Methane production (mL)"},"y2":{"field":"hi"}}}
     ]},
     {"layer":[
      {"mark":{"type":"line","strokeDash":[1.5,2],"color":"#9fb3b3","strokeWidth":1},
       "encoding":{"y":{"field":"h","type":"quantitative","scale":{"domain":[0,100],"nice":false},"axis":{"orient":"right","values":[0,25,50,75,100],"title":"Hydrogen consumption (%)"}}}},
      {"mark":{"type":"errorbar","color":"#8a8a8a","ticks":{"size":8}},
       "encoding":{"y":{"field":"hlo","type":"quantitative","title":"Hydrogen consumption (%)"},"y2":{"field":"hhi"}}},
      {"mark":{"type":"point","filled":true,"size":120,"opacity":1},
       "encoding":{
        "y":{"field":"h","type":"quantitative"},
        "shape":{"datum":"Hydrogen consumption","type":"nominal","scale":{"domain":["Methane production","Hydrogen consumption"],"range":["M-1.8,-0.7H1.8V0.7H-1.8Z","M-0.5,-0.5H0.5V0.5H-0.5Z"]},"legend":{"title":null,"orient":"none","legendX":20,"legendY":2}},
        "fill":{"datum":"Hydrogen consumption","type":"nominal","scale":{"domain":["Methane production","Hydrogen consumption"],"range":["#ebe9d2","#2f5f58"]},"legend":{"title":null,"orient":"none","legendX":20,"legendY":2}},
        "stroke":{"datum":"Hydrogen consumption","type":"nominal","scale":{"domain":["Methane production","Hydrogen consumption"],"range":["#a6a163","#2f5f58"]},"legend":{"title":null,"orient":"none","legendX":20,"legendY":2}}}}
     ]}
    ],
    "resolve":{"scale":{"y":"independent"}}
   }
  ],"spacing":0},
  {
   "width":372,"height":254,
   "view":{"stroke":null},
   "title":{"text":"(e)","frame":"group","anchor":"start","offset":-17,"dx":-10,"fontSize":12},
   "encoding":{
    "x":{"field":"x","type":"quantitative","scale":{"domain":[225,597],"nice":false,"zero":false},"axis":null},
    "y":{"field":"y","type":"quantitative","scale":{"domain":[278,532],"nice":false,"zero":false,"reverse":true},"axis":null}
   },
   "layer":[
    {"data":{"name":"bg"},"transform":[{"filter":"datum.zone === 'low'"}],
     "mark":{"type":"rect","fill":{"gradient":"linear","x1":0,"y1":0,"x2":1,"y2":1,"stops":[{"offset":0,"color":"#f3f9f4"},{"offset":1,"color":"#b7dbc2"}]}},
     "encoding":{"x2":{"field":"x2"},"y2":{"field":"y2"}}},
    {"data":{"name":"bg"},"transform":[{"filter":"datum.zone === 'high'"}],
     "mark":{"type":"rect","fill":{"gradient":"linear","x1":0,"y1":1,"x2":1,"y2":0,"stops":[{"offset":0,"color":"#f8cfb0"},{"offset":1,"color":"#fdf2ea"}]}},
     "encoding":{"x2":{"field":"x2"},"y2":{"field":"y2"}}},
    {"data":{"name":"boxes"},"transform":[{"filter":"datum.c === 'k'"}],
     "mark":{"type":"rect","cornerRadius":6,"fill":"#ffffff","strokeWidth":1.3},
     "encoding":{"x2":{"field":"x2"},"y2":{"field":"y2"},
      "stroke":{"field":"c","type":"nominal","scale":{"domain":["k","g","r","d","w"],"range":["#111111","#1e7b34","#c4211c","#3e404b","#ffffff"]},"legend":null}}},
    {"data":{"name":"boxes"},"transform":[{"filter":"datum.c !== 'k'"}],
     "mark":{"type":"rect","cornerRadius":6,"fillOpacity":0,"strokeWidth":1.3},
     "encoding":{"x2":{"field":"x2"},"y2":{"field":"y2"},
      "stroke":{"field":"c","type":"nominal","scale":{"domain":["k","g","r","d","w"],"range":["#111111","#1e7b34","#c4211c","#3e404b","#ffffff"]},"legend":null}}},
    {"data":{"name":"pills"},
     "mark":{"type":"rect","cornerRadius":7},
     "encoding":{"x2":{"field":"x2"},"y2":{"field":"y2"},
      "fill":{"field":"c","type":"nominal","scale":{"domain":["k","g","r","d","w"],"range":["#111111","#1e7b34","#c4211c","#3e404b","#ffffff"]},"legend":null}}},
    {"data":{"name":"dots"},
     "mark":{"type":"rule","color":"#111111","strokeWidth":1,"strokeDash":[1.5,1.5]},
     "encoding":{"x2":{"field":"x2"},"y2":{"field":"y2"}}},
    {"data":{"name":"solids"},
     "mark":{"type":"rule","strokeWidth":2},
     "encoding":{"x2":{"field":"x2"},"y2":{"field":"y2"},
      "stroke":{"field":"c","type":"nominal","scale":{"domain":["k","g","r","d","w"],"range":["#111111","#1e7b34","#c4211c","#3e404b","#ffffff"]},"legend":null}}},
    {"data":{"name":"heads"},
     "mark":{"type":"point","filled":true,"size":22,"opacity":1},
     "encoding":{
      "shape":{"field":"dir","type":"nominal","scale":{"domain":["down","right","left"],"range":["triangle-down","triangle-right","triangle-left"]},"legend":null},
      "color":{"field":"c","type":"nominal","scale":{"domain":["k","g","r","d","w"],"range":["#111111","#1e7b34","#c4211c","#3e404b","#ffffff"]},"legend":null}}},
    {"data":{"name":"texts"},
     "mark":{"type":"text","font":"Liberation Serif","fontWeight":"bold","fontSize":9,"align":"center","baseline":"middle"},
     "encoding":{"text":{"field":"t","type":"nominal"},
      "color":{"field":"c","type":"nominal","scale":{"domain":["k","g","r","d","w"],"range":["#111111","#1e7b34","#c4211c","#3e404b","#ffffff"]},"legend":null}}}
   ]
  }
 ],"spacing":28}
],
"spacing":0
}
